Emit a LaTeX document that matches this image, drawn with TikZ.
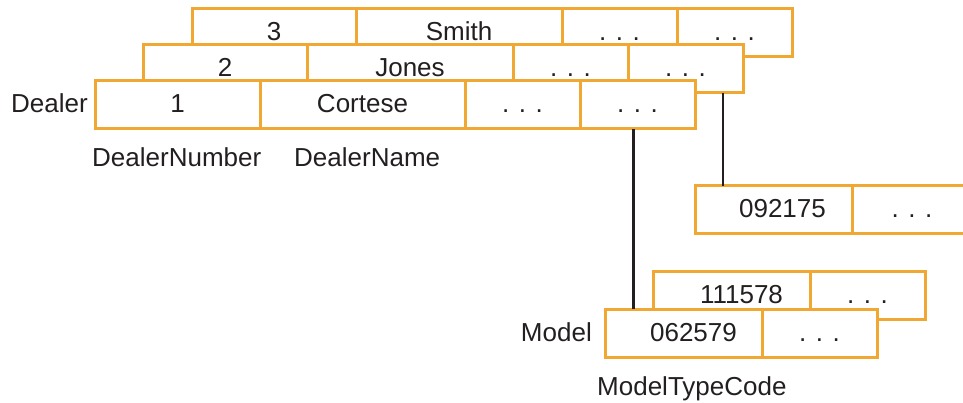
\documentclass[tikz,border=0pt]{standalone}
\usepackage{fontspec}
\setmainfont{Liberation Sans}
\usetikzlibrary{positioning}
\definecolor{boxorange}{RGB}{240,168,50}
\definecolor{inkblack}{RGB}{35,31,32}

\begin{document}
\begin{tikzpicture}[x=1pt, y=-1pt,
      cell/.style={rectangle, draw=boxorange, fill=white, line width=3pt,
        minimum height=48pt, inner sep=0pt, outer sep=0pt,
        text height=18pt, text depth=2pt, text=inkblack,
      font=\fontsize{26}{31}\selectfont},
      lbl/.style={text=inkblack, inner sep=0pt,
      font=\fontsize{26}{31}\selectfont},
      link/.style={draw=inkblack, line width=2.5pt}
    ]
    \clip (0,0) rectangle (963,403);
    % === Dealer: third record (back) ===
    \node[cell, minimum width=164pt, anchor=north west] (d3a) at (192,9) {3};
    \node[cell, minimum width=206pt, right=0pt of d3a] (d3b) {Smith};
    \node[cell, minimum width=115pt, right=0pt of d3b] (d3c) {. . .};
    \node[cell, minimum width=115pt, right=0pt of d3c] (d3d) {. . .};
    % === Dealer: second record ===
    \node[cell, minimum width=164pt, anchor=north west] (d2a) at (143,45) {2};
    \node[cell, minimum width=206pt, right=0pt of d2a] (d2b) {Jones};
    \node[cell, minimum width=115pt, right=0pt of d2b] (d2c) {. . .};
    \node[cell, minimum width=115pt, right=0pt of d2c] (d2d) {. . .};
    % === Dealer: first record (front) ===
    \node[cell, minimum width=165pt, anchor=north west] (d1a) at (95,81) {1};
    \node[cell, minimum width=205pt, right=0pt of d1a] (d1b) {Cortese};
    \node[cell, minimum width=115pt, right=0pt of d1b] (d1c) {. . .};
    \node[cell, minimum width=115pt, right=0pt of d1c] (d1d) {. . .};
    % labels
    \node[lbl, anchor=base east] (dlr) at (88,113) {Dealer};
    \node[lbl, anchor=base west] (dnum) at (92,167) {DealerNumber};
    \node[lbl, anchor=base west] (dnam) at (294,167) {DealerName};
    % === Model of the second dealer ===
    \node[cell, minimum width=157pt, anchor=north west] (x1a) at (695,186)
    {\hspace{18pt}092175};
    \node[cell, minimum width=120pt, right=0pt of x1a] (x1b) {. . .};
    % === Models of the first dealer ===
    \node[cell, minimum width=157pt, anchor=north west] (m2a) at (653,271)
    {\hspace{20pt}111578};
    \node[cell, minimum width=115pt, right=0pt of m2a] (m2b) {. . .};
    \node[cell, minimum width=157pt, anchor=north west] (m1a) at (605,309)
    {\hspace{20pt}062579};
    \node[cell, minimum width=115pt, right=0pt of m1a] (m1b) {. . .};
    % labels
    \node[lbl, anchor=base east] (mdl) at (592,341) {Model};
    \node[lbl, anchor=base west] (mtc) at (597,395) {ModelTypeCode};
    % Connectors: dealer -> model
    \draw[link] ([xshift=-4pt]d1d.south) -- ([xshift=-4pt]d1d.south |- m1a.north);
    \draw[link] ([xshift=-20pt]d2d.south east)
    -- ([xshift=-20pt]d2d.south east |- x1a.north);
  \end{tikzpicture}
\end{document}
